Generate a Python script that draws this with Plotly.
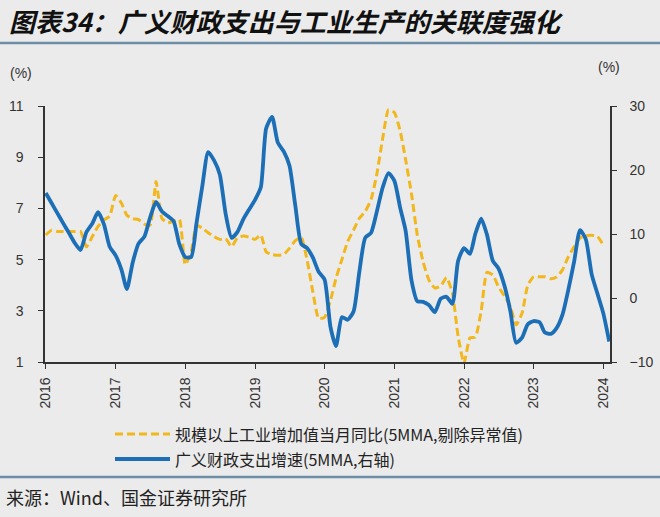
import plotly.graph_objects as go
import pandas as pd

# ---------------- data (month-end observations) ----------------
dates_ip = pd.date_range("2015-12-31", periods=97, freq="ME")
dates_fx = pd.date_range("2015-12-31", periods=98, freq="ME")

industrial_yoy = [
    5.96, 6.15, 6.1, 6.1, 6.1, 6.1, 6.1, 5.5, 5.9, 6.3,
    6.55, 6.7, 7.5, 7.2, 6.73, 6.6, 6.56, 6.39, 6.35, 8.05,
    6.6, 6.44, 6.5, 6.57, 4.8, 5.3, 6.33, 6.23, 6.05, 5.9,
    5.79, 5.82, 5.5, 5.85, 5.92, 5.88, 5.79, 5.96, 5.3, 5.2,
    5.17, 5.2, 5.44, 5.74, 5.86, 5.0, 3.73, 2.7, 2.74, 3.4,
    4.27, 5.0, 5.7, 6.15, 6.61, 6.88, 7.35, 8.34, 9.75, 10.85,
    10.75, 10.0, 8.9, 7.55, 5.96, 4.9, 4.2, 3.89, 3.97, 4.3,
    3.7, 2.0, 0.95, 1.94, 1.97, 3.0, 4.5, 4.4, 3.93, 3.58,
    3.17, 2.45, 2.9, 4.0, 4.33, 4.33, 4.33, 4.25, 4.32, 4.6,
    5.1, 5.5, 5.85, 5.93, 5.95, 5.9, 5.57,
]

fiscal_growth = [
    16.4, 14.8, 13.3, 11.7, 10.2, 8.6, 7.5, 10.3, 11.65, 13.4,
    11.5, 8.0, 6.66, 4.4, 1.4, 5.6, 8.5, 9.6, 12.6, 15.0,
    13.5, 12.8, 12.0, 8.4, 6.4, 6.4, 11.7, 17.6, 22.8, 21.5,
    19.3, 13.1, 9.4, 10.3, 12.3, 13.8, 15.3, 17.3, 26.5, 28.3,
    24.3, 22.9, 20.7, 14.4, 8.45, 7.8, 6.3, 4.1, 2.9, -4.5,
    -7.5, -3.0, -3.4, -2.1, 4.0, 9.4, 10.2, 13.5, 17.3, 19.5,
    18.3, 14.0, 10.5, 2.7, -0.5, -0.6, -1.1, -2.2, -0.1, 0.2,
    -0.9, 5.8, 7.8, 6.9, 10.0, 12.4, 9.9, 5.8, 4.6, 1.9,
    -2.1, -7.0, -6.2, -4.1, -3.6, -3.8, -5.4, -5.6, -4.7, -2.6,
    1.2, 5.7, 10.6, 9.2, 3.7, 0.7, -2.4, -6.8,
]

year_labels = ["2016", "2017", "2018", "2019", "2020", "2021", "2022", "2023", "2024"]
left_ticks = [1, 3, 5, 7, 9, 11]
right_ticks = [-10, 0, 10, 20, 30]

name_ip = "规模以上工业增加值当月同比(5MMA,剔除异常值)"
name_fx = "广义财政支出增速(5MMA,右轴)"
title_text = "图表34：广义财政支出与工业生产的关联度强化"
source_text = "来源：Wind、国金证券研究所"

# ---------------- styling ----------------
W, H = 660, 517
L, R, T, B = 45, 50, 106, 155
BG = "#ebebeb"
YELLOW = "#f2b71c"
BLUE = "#1c6fb6"
AXIS = "#333333"
RULE = "#6b8ea6"
TICKFONT = dict(family="Liberation Sans, Arial, sans-serif", size=14, color="#333333")
CJK = "Noto Sans CJK SC, sans-serif"

pw, ph = W - L - R, H - T - B


def px(xp):
    return (xp - L) / pw


def py(yp):
    return (H - B - yp) / ph


fig = go.Figure()
fig.add_trace(go.Scatter(
    x=dates_ip, y=industrial_yoy, name=name_ip, mode="lines",
    line=dict(color=YELLOW, width=3, dash="8px,4px", shape="spline", smoothing=0.5),
    yaxis="y", showlegend=False,
))
fig.add_trace(go.Scatter(
    x=dates_fx, y=fiscal_growth, name=name_fx, mode="lines",
    line=dict(color=BLUE, width=3.8, shape="spline", smoothing=0.6),
    yaxis="y2", showlegend=False,
))

tickdates = [f"{y}-01-01" for y in year_labels]

fig.update_layout(
    width=W, height=H,
    margin=dict(l=L, r=R, t=T, b=B, autoexpand=False),
    paper_bgcolor=BG, plot_bgcolor=BG,
    xaxis=dict(
        type="date", range=["2015-12-27", "2024-02-04"],
        tickmode="array", tickvals=tickdates, ticktext=year_labels,
        tickangle=-90, ticks="outside", ticklen=5, tickcolor=AXIS, tickwidth=1.2,
        showline=True, linecolor=AXIS, linewidth=1.5, showgrid=False, zeroline=False,
        tickfont=TICKFONT, ticklabelstandoff=3,
    ),
    yaxis=dict(
        range=[1, 11], tickmode="array", tickvals=left_ticks,
        ticks="outside", ticklen=5, tickcolor=AXIS, tickwidth=1.2,
        showline=True, linecolor=AXIS, linewidth=1.5, showgrid=False, zeroline=False,
        tickfont=TICKFONT, ticklabelstandoff=12,
    ),
    yaxis2=dict(
        range=[-10, 30], tickmode="array", tickvals=right_ticks,
        overlaying="y", side="right", anchor="x",
        ticks="outside", ticklen=5, tickcolor=AXIS, tickwidth=1.2,
        showline=True, linecolor=AXIS, linewidth=1.5, showgrid=False, zeroline=False,
        tickfont=TICKFONT, ticklabelstandoff=10,
    ),
)

shapes = []
annotations = []

# title + rules
annotations.append(dict(
    xref="paper", yref="paper", x=px(7), y=py(20), xanchor="left", yanchor="middle",
    text=f"<b><i>{title_text}</i></b>", showarrow=False,
    font=dict(family=CJK, size=26, color="#111111"),
))
shapes.append(dict(type="line", xref="paper", yref="paper", x0=px(0), x1=px(660),
                   y0=py(43), y1=py(43), line=dict(color=RULE, width=2.5)))
shapes.append(dict(type="line", xref="paper", yref="paper", x0=px(0), x1=px(660),
                   y0=py(477), y1=py(477), line=dict(color=RULE, width=2.5)))
annotations.append(dict(
    xref="paper", yref="paper", x=px(4), y=py(497), xanchor="left", yanchor="middle",
    text=source_text, showarrow=False,
    font=dict(family=CJK, size=18, color="#222222"),
))

# unit labels
annotations.append(dict(xref="paper", yref="paper", x=px(21), y=py(73), xanchor="center",
                        yanchor="middle", text="(%)", showarrow=False, font=TICKFONT))
annotations.append(dict(xref="paper", yref="paper", x=px(609), y=py(67), xanchor="center",
                        yanchor="middle", text="(%)", showarrow=False, font=TICKFONT))

# legend (manual)
shapes.append(dict(type="line", xref="paper", yref="paper", x0=px(115), x1=px(170),
                   y0=py(434), y1=py(434),
                   line=dict(color=YELLOW, width=3, dash="8px,4px")))
shapes.append(dict(type="line", xref="paper", yref="paper", x0=px(115), x1=px(170),
                   y0=py(459), y1=py(459),
                   line=dict(color=BLUE, width=3.8)))
annotations.append(dict(xref="paper", yref="paper", x=px(173), y=py(434), xanchor="left",
                        yanchor="middle", text=name_ip, showarrow=False,
                        font=dict(family=CJK, size=16, color="#222222")))
annotations.append(dict(xref="paper", yref="paper", x=px(173), y=py(459), xanchor="left",
                        yanchor="middle", text=name_fx, showarrow=False,
                        font=dict(family=CJK, size=16, color="#222222")))

fig.update_layout(shapes=shapes, annotations=annotations)

fig.write_html("out.html")
